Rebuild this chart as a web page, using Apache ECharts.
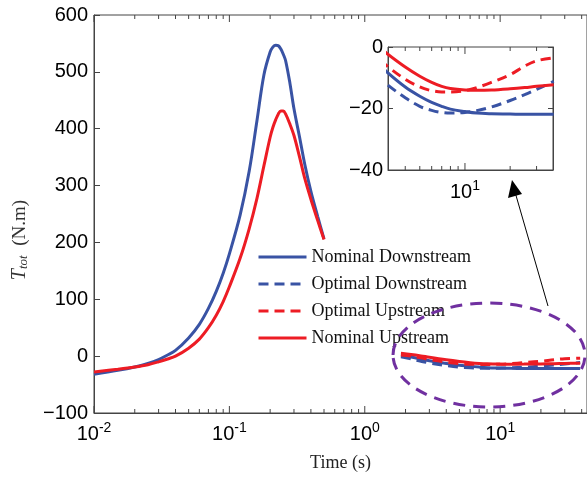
<!DOCTYPE html>
<html><head><meta charset="utf-8">
<script src="https://cdn.jsdelivr.net/npm/echarts@6/dist/echarts.min.js"></script>
<style>html,body{margin:0;padding:0;background:#fff}#c{width:587px;height:479px}</style>
</head><body><div id="c"></div>
<script>
// ---- data ----
const tPeak = [0.01,0.015,0.02,0.025,0.03,0.035,0.04,0.05,0.06,0.07,0.08,0.09,0.1,0.12,0.14,0.16,0.18,0.2,0.21,0.22,0.23,0.24,0.25,0.26,0.28,0.3,0.33,0.36,0.4,0.45,0.5];
const nomDownPeak = [-32,-25,-19,-13,-6,2,10,32,56,84,114,146,180,248,325,415,495,535,544,547,546,540,531,520,480,435,385,338,290,245,206];
const nomUpPeak   = [-28,-23,-19,-15,-10,-5,0,14,30,50,72,96,122,172,224,278,335,385,403,416,426,431,431,426,408,388,350,313,276,238,205];

const tTail = [1.85,2.2,2.6,3,4,5,6,7,8,10,12,15,20,25,30,39];
const nomDownTail = [2,-1.5,-5,-8,-13,-16,-18,-19.3,-20.2,-21,-21.5,-21.7,-21.8,-21.9,-21.9,-21.9];
const optDownTail = [-1,-5,-9,-12,-16.5,-19.3,-20.6,-21.3,-21.5,-21.3,-20.7,-19.5,-17.4,-15.5,-13.8,-11.2];
const optUpTail   = [2,0,-3,-6,-10.5,-13,-14.2,-14.6,-14.6,-14.2,-13.2,-11.5,-9.0,-6.2,-4.5,-3.5];
const nomUpTail   = [5,3,0.5,-2,-6.5,-9.5,-11.5,-12.8,-13.5,-14,-14.1,-14,-13.6,-13.2,-12.8,-12.3];

const legendNames = ['Nominal Downstream','Optimal Downstream','Optimal Upstream','Nominal Upstream'];
const mainMajorTicks = [0.01,0.1,1,10];
const mainMinorTicks = [0.02,0.03,0.04,0.05,0.06,0.07,0.08,0.09,0.2,0.3,0.4,0.5,0.6,0.7,0.8,0.9,2,3,4,5,6,7,8,9,20,30,40];
const insetMajorTicks = [10];
const insetMinorTicks = [4,5,6,7,8,9,20,30];

// ---- styling ----
const BLUE = '#3953A4', RED = '#ED1C24', AX = '#444';
const DASH = [10,6];
const pair = (xs, ys) => xs.map((x,i)=>[x, ys[i]]);

function powLabel(v){
  const e = Math.round(Math.log10(v));
  return '{b|10}{s|' + e + '}';
}
const powRich = {
  b:{fontSize:20,fontFamily:'Liberation Sans',color:'#000'},
  s:{fontSize:14,fontFamily:'Liberation Sans',color:'#000',padding:[0,0,13,0]}
};
const numFmt = v => v < 0 ? '\u2212' + (-v) : String(v);

function tickSeries(xi, yi, major, minor, ymin, ymax){
  const data = major.map(t=>[t,1]).concat(minor.map(t=>[t,0]));
  return {
    type:'custom', xAxisIndex:xi, yAxisIndex:yi, silent:true, clip:false, z:5,
    data: data,
    renderItem:(params, api)=>{
      const t = api.value(0), len = api.value(1) ? 7 : 4;
      const p0 = api.coord([t, ymin]), p1 = api.coord([t, ymax]);
      const st = {stroke:AX, lineWidth:1};
      return {type:'group', children:[
        {type:'line', shape:{x1:p0[0],y1:p0[1],x2:p0[0],y2:p0[1]-len}, style:st},
        {type:'line', shape:{x1:p1[0],y1:p1[1],x2:p1[0],y2:p1[1]+len}, style:st}
      ]};
    }
  };
}

function line(name, xs, ys, color, dashed, xi, yi, z){
  return {
    name:name, type:'line', xAxisIndex:xi, yAxisIndex:yi, data:pair(xs,ys),
    symbol:'none', smooth:0.35, clip:true, z:z||2,
    lineStyle:{color:color, width:3, type: dashed ? DASH : 'solid'},
    itemStyle:{color:color}
  };
}

const chart = echarts.init(document.getElementById('c'), null, {renderer:'canvas'});
chart.setOption({
  animation:false,
  backgroundColor:'#fff',
  grid:[
    {left:94, top:15, width:500, height:398, show:true, borderColor:AX, borderWidth:1, backgroundColor:'transparent'},
    {left:388, top:47, width:165, height:123, show:true, borderColor:AX, borderWidth:1, backgroundColor:'#fff', z:10}
  ],
  xAxis:[
    {type:'log', logBase:10, gridIndex:0, min:0.01, max:43.8,
     axisLine:{show:true, onZero:false, lineStyle:{color:AX}}, axisTick:{show:false}, splitLine:{show:false},
     axisLabel:{formatter:powLabel, rich:powRich, margin:8, showMinLabel:true, showMaxLabel:false},
     name:'Time (s)', nameLocation:'middle', nameGap:41,
     nameTextStyle:{fontFamily:'Liberation Serif', fontSize:18, color:'#222'}},
    {type:'log', logBase:10, gridIndex:1, min:3.07, max:38.6, z:11,
     axisLine:{show:true, onZero:false, lineStyle:{color:AX}}, axisTick:{show:false}, splitLine:{show:false},
     axisLabel:{formatter:powLabel, rich:powRich, margin:9, showMinLabel:false, showMaxLabel:false}}
  ],
  yAxis:[
    {type:'value', gridIndex:0, min:-100, max:600, interval:100,
     axisLine:{show:true, onZero:false, lineStyle:{color:AX}}, axisTick:{show:true, inside:true, length:6, lineStyle:{color:AX}},
     splitLine:{show:false},
     axisLabel:{formatter:numFmt, fontSize:20, fontFamily:'Liberation Sans', color:'#000', margin:6}},
    {type:'value', gridIndex:1, min:-40, max:0, interval:20, z:11,
     axisLine:{show:true, onZero:false, lineStyle:{color:AX}}, axisTick:{show:true, inside:true, length:5, lineStyle:{color:AX}},
     splitLine:{show:false},
     axisLabel:{formatter:numFmt, fontSize:20, fontFamily:'Liberation Sans', color:'#000', margin:5}},
    {type:'value', gridIndex:1, min:-40, max:0, interval:20, position:'right', z:11,
     axisLine:{show:true, onZero:false, lineStyle:{color:AX}}, axisTick:{show:true, inside:true, length:5, lineStyle:{color:AX}},
     splitLine:{show:false}, axisLabel:{show:false}}
  ],
  legend:{
    data:legendNames, orient:'vertical', left:257, top:248, padding:0,
    itemWidth:48, itemHeight:14, itemGap:9,
    itemStyle:{opacity:0},
    lineStyle:{width:3},
    textStyle:{fontFamily:'Liberation Serif', fontSize:18, color:'#111', lineHeight:18}
  },
  series:[
    line('Nominal Downstream', tPeak, nomDownPeak, BLUE, false, 0, 0, 2),
    line('Nominal Upstream', tPeak, nomUpPeak, RED, false, 0, 0, 3),
    line('Nominal Downstream', tTail, nomDownTail, BLUE, false, 0, 0, 2),
    line('Optimal Downstream', tTail, optDownTail, BLUE, true, 0, 0, 2),
    line('Optimal Upstream', tTail, optUpTail, RED, true, 0, 0, 3),
    line('Nominal Upstream', tTail, nomUpTail, RED, false, 0, 0, 3),
    line('Nominal Downstream', tTail, nomDownTail, BLUE, false, 1, 1, 12),
    line('Optimal Downstream', tTail, optDownTail, BLUE, true, 1, 1, 12),
    line('Optimal Upstream', tTail, optUpTail, RED, true, 1, 1, 13),
    line('Nominal Upstream', tTail, nomUpTail, RED, false, 1, 1, 13),
    tickSeries(0, 0, mainMajorTicks, mainMinorTicks, -100, 600),
    Object.assign(tickSeries(1, 1, insetMajorTicks, insetMinorTicks, -40, 0), {z:14})
  ],
  graphic:[
    {type:'text', z:100, x:20, y:240, rotation:Math.PI/2,
     style:{text:'{i|T}{sub|tot}  (N.m)', fill:'#333', align:'center', verticalAlign:'middle',
       font:'19px "Liberation Serif"',
       rich:{i:{fontFamily:'Liberation Serif', fontStyle:'italic', fontSize:20, fill:'#333', color:'#333'},
             sub:{fontFamily:'Liberation Serif', fontStyle:'italic', fontSize:13, fill:'#333', color:'#333', padding:[8,0,0,0]}}}},
    {type:'ellipse', z:100, shape:{cx:489, cy:355, rx:96, ry:52},
     style:{fill:null, stroke:'#7030A0', lineWidth:3, lineDash:[12,8]}},
    {type:'line', z:100, shape:{x1:548, y1:306, x2:515, y2:192}, style:{stroke:'#000', lineWidth:1}},
    {type:'polygon', z:100, shape:{points:[[512,180],[508,198],[522,194]]}, style:{fill:'#000'}}
  ]
});
</script></body></html>
